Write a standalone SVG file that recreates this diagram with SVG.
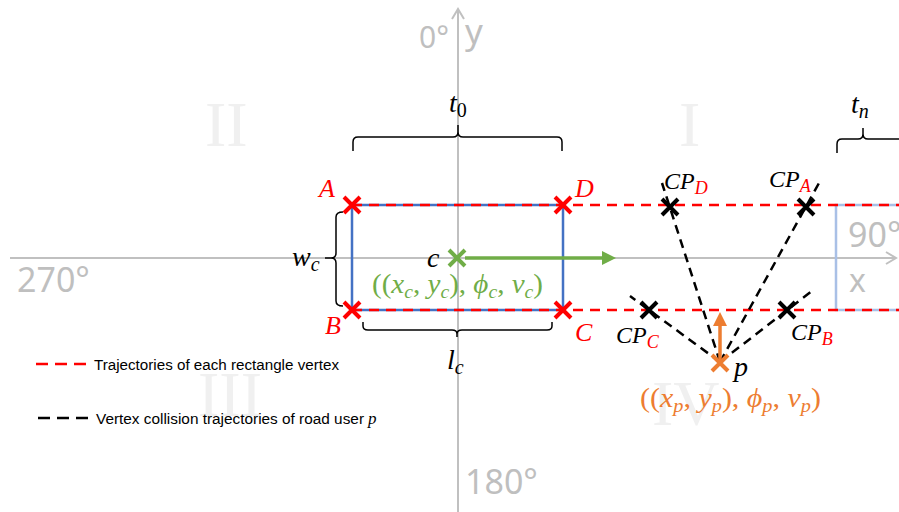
<svg xmlns="http://www.w3.org/2000/svg" width="899" height="512" viewBox="0 0 899 512">
<style>
.quad{font-family:"Liberation Serif",serif;font-size:64px;fill:#f0f0f0}
.gray{font-family:"Noto Sans","Liberation Sans",sans-serif;fill:#bfbfbf}
.math{font-family:"Liberation Serif","DejaVu Serif",serif;font-style:italic}
.up{font-style:normal}
.leg{font-family:"Liberation Sans",Arial,sans-serif;font-size:14px;fill:#000}
.axis{stroke:#c0c0c0;stroke-width:2;fill:none}
.red{stroke:#ff0000;stroke-width:2.5;stroke-dasharray:10 7;fill:none}
.blk{stroke:#000;stroke-width:2.5;stroke-dasharray:9 6;fill:none}
.brace{stroke:#000;stroke-width:1.5;fill:none}
.xr{stroke:#ff0000;stroke-width:4}
.xk{stroke:#000;stroke-width:4}
</style>
<defs>
<path id="xm" d="M-8,-8 L8,8 M-8,8 L8,-8"/>
</defs>
<rect width="899" height="512" fill="#ffffff"/>
<g id="quadrants">
<text class="quad" x="205" y="146">II</text>
<text class="quad" x="679" y="146">I</text>
<text class="quad" x="198" y="416">III</text>
<text class="quad" x="652" y="425">IV</text>
</g>
<g id="axes">
<path class="axis" d="M458,512 L458,9 M452,19 L458,9 L464,19"/>
<path class="axis" d="M10,258 L896,258 M886,252 L896,258 L886,264"/>
<text class="gray" x="419" y="48" font-size="30">0°</text>
<text class="gray" x="465" y="44" font-size="35">y</text>
<text class="gray" x="17" y="292" font-size="34">270°</text>
<text class="gray" x="465" y="494" font-size="34">180°</text>
<text class="gray" x="848" y="247" font-size="34">90°</text>
<text class="gray" x="849" y="292" font-size="32">x</text>
</g>
<g id="rectangle-t0">
<rect x="352" y="205" width="211" height="105" fill="none" stroke="#4472c4" stroke-width="2.5"/>
</g>
<g id="rectangle-tn">
<path d="M899,205 L836,205 L836,310 L899,310" fill="none" stroke="#a9c0e6" stroke-width="2.5"/>
</g>
<g id="connectors">
<path class="red" d="M352,205 L899,205"/>
<path class="red" d="M352,310 L899,310"/>
<path class="blk" d="M720,362 L662,183"/>
<path class="blk" d="M720,362 L819,183"/>
<path class="blk" d="M720,362 L630,296"/>
<path class="blk" d="M720,362 L812,291"/>
<path d="M465,258 L604,258" stroke="#70ad47" stroke-width="3.5"/>
<path d="M602,251 L616,258 L602,265 Z" fill="#70ad47"/>
<path d="M720,362 L720,324" stroke="#ed7d31" stroke-width="3.5"/>
<path d="M713,326 L720,312 L727,326 Z" fill="#ed7d31"/>
</g>
<g id="braces">
<path class="brace" d="M353,151 L353,142 Q353,137 358,137 L453,137 Q458,137 458,132 L458,125 M458,132 Q458,137 463,137 L557,137 Q562,137 562,142 L562,151"/>
<path class="brace" d="M837,153 L837,144 Q837,139 842,139 L858,139 Q863,139 863,134 L863,128 M863,134 Q863,139 868,139 L899,139"/>
<path class="brace" d="M343,212 Q336,212 336,217 L336,253 Q336,258 331,258 L325,258 M331,258 Q336,258 336,263 L336,301 Q336,306 343,306"/>
<path class="brace" d="M363,322 L363,326 Q363,330 368,330 L452,330 Q457,330 457,334 L457,337 M457,334 Q457,330 462,330 L547,330 Q552,330 552,326 L552,322"/>
</g>
<g id="vertex-A"><use href="#xm" x="352" y="205" class="xr"/><text class="math" x="319" y="197" font-size="26" fill="#ff0000">A</text></g>
<g id="vertex-D"><use href="#xm" x="563" y="205" class="xr"/><text class="math" x="575" y="197" font-size="26" fill="#ff0000">D</text></g>
<g id="vertex-B"><use href="#xm" x="352" y="310" class="xr"/><text class="math" x="325" y="334" font-size="26" fill="#ff0000">B</text></g>
<g id="vertex-C"><use href="#xm" x="563" y="310" class="xr"/><text class="math" x="575" y="341" font-size="26" fill="#ff0000">C</text></g>
<g id="center-c">
<use href="#xm" x="457" y="258" stroke="#70ad47" stroke-width="4"/>
<text class="math" x="427" y="267" font-size="28" fill="#000">c</text>
<text class="math" x="372" y="293" font-size="28" fill="#70ad47" textLength="171" lengthAdjust="spacingAndGlyphs"><tspan class="up">((</tspan>x<tspan font-size="19" dy="5">c</tspan><tspan class="up" dy="-5">, </tspan>y<tspan font-size="19" dy="5">c</tspan><tspan class="up" dy="-5">), </tspan>ϕ<tspan font-size="19" dy="5">c</tspan><tspan class="up" dy="-5">, </tspan>v<tspan font-size="19" dy="5">c</tspan><tspan class="up" dy="-5">)</tspan></text>
</g>
<g id="labels">
<text class="math" x="449" y="112" font-size="28">t<tspan font-size="20" dy="5" class="up">0</tspan></text>
<text class="math" x="851" y="113" font-size="28">t<tspan font-size="20" dy="5">n</tspan></text>
<text class="math" x="292" y="266" font-size="28">w<tspan font-size="20" dy="5">c</tspan></text>
<text class="math" x="447" y="369" font-size="28">l<tspan font-size="20" dy="5">c</tspan></text>
</g>
<g id="cp-D"><use href="#xm" x="670" y="207" class="xk"/><text class="math" x="664" y="189" font-size="24">CP<tspan font-size="18" dy="5" fill="#ff0000">D</tspan></text></g>
<g id="cp-A"><use href="#xm" x="806" y="207" class="xk"/><text class="math" x="769" y="187" font-size="24">CP<tspan font-size="18" dy="5" fill="#ff0000">A</tspan></text></g>
<g id="cp-C"><use href="#xm" x="649" y="310" class="xk"/><text class="math" x="616" y="343" font-size="24">CP<tspan font-size="18" dy="5" fill="#ff0000">C</tspan></text></g>
<g id="cp-B"><use href="#xm" x="787" y="310" class="xk"/><text class="math" x="791" y="340" font-size="24">CP<tspan font-size="18" dy="5" fill="#ff0000">B</tspan></text></g>
<g id="user-p">
<use href="#xm" x="720" y="363" stroke="#ed7d31" stroke-width="4"/>
<text class="math" x="734" y="376" font-size="28">p</text>
<text class="math" x="640" y="407" font-size="28" fill="#ed7d31" textLength="181" lengthAdjust="spacingAndGlyphs"><tspan class="up">((</tspan>x<tspan font-size="19" dy="5">p</tspan><tspan class="up" dy="-5">, </tspan>y<tspan font-size="19" dy="5">p</tspan><tspan class="up" dy="-5">), </tspan>ϕ<tspan font-size="19" dy="5">p</tspan><tspan class="up" dy="-5">, </tspan>v<tspan font-size="19" dy="5">p</tspan><tspan class="up" dy="-5">)</tspan></text>
</g>
<g id="legend">
<path d="M36,364 L88,364" stroke="#ff0000" stroke-width="2.5" stroke-dasharray="12 7"/>
<text class="leg" x="94" y="370" textLength="245" lengthAdjust="spacingAndGlyphs">Trajectories of each rectangle vertex</text>
<path d="M38,418 L90,418" stroke="#000" stroke-width="2.5" stroke-dasharray="12 7"/>
<text class="leg" x="96" y="424" textLength="268" lengthAdjust="spacingAndGlyphs">Vertex collision trajectories of road user</text>
<text class="math" x="368" y="424" font-size="17">p</text>
</g>
</svg>
